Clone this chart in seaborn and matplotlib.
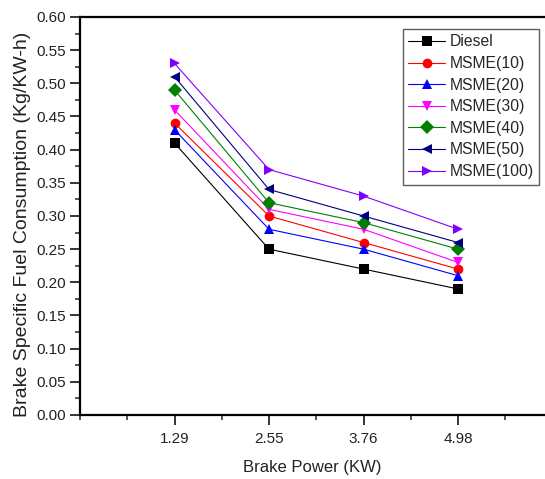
import matplotlib
matplotlib.use("Agg")
import matplotlib.pyplot as plt
from matplotlib.ticker import MultipleLocator, FormatStrFormatter
import seaborn as sns
import pandas as pd

# Brake power loads (category labels on the x axis)
brake_power = ["1.29", "2.55", "3.76", "4.98"]

# Brake specific fuel consumption (kg/kW-h) for each fuel blend
diesel = [0.41, 0.25, 0.22, 0.19]
msme10 = [0.44, 0.30, 0.26, 0.22]
msme20 = [0.43, 0.28, 0.25, 0.21]
msme30 = [0.46, 0.31, 0.28, 0.23]
msme40 = [0.49, 0.32, 0.29, 0.25]
msme50 = [0.51, 0.34, 0.30, 0.26]
msme100 = [0.53, 0.37, 0.33, 0.28]

fuels = ["Diesel", "MSME(10)", "MSME(20)", "MSME(30)", "MSME(40)", "MSME(50)", "MSME(100)"]
series = [diesel, msme10, msme20, msme30, msme40, msme50, msme100]

colors = ["#000000", "#ff0000", "#0000ff", "#ff00ff", "#008000", "#000080", "#8000ff"]
markers = ["s", "o", "^", "v", "D", "<", ">"]

rows = []
for fuel, vals in zip(fuels, series):
    for bp, v in zip(brake_power, vals):
        rows.append({"Brake Power": bp, "BSFC": v, "Fuel": fuel})
df = pd.DataFrame(rows)

sns.set_style("ticks")
plt.rcParams["font.family"] = ["Liberation Sans", "DejaVu Sans"]

fig = plt.figure(figsize=(5.45, 4.79), dpi=100)
ax = fig.add_axes([80 / 545, 1 - 415 / 479, 1 - 80 / 545, (415 - 17) / 479])

sns.lineplot(
    data=df, x="Brake Power", y="BSFC", hue="Fuel", style="Fuel",
    hue_order=fuels, style_order=fuels,
    palette=dict(zip(fuels, colors)),
    markers=dict(zip(fuels, markers)), dashes=False,
    linewidth=0.8, markersize=7, markeredgewidth=0,
    sort=False, ax=ax,
)

ax.set_xlim(-1, 3.92)
ax.set_ylim(0, 0.60)
ax.set_xticks(range(len(brake_power)))
ax.set_xticklabels(brake_power)
ax.xaxis.set_minor_locator(MultipleLocator(0.5))
ax.yaxis.set_major_locator(MultipleLocator(0.05))
ax.yaxis.set_minor_locator(MultipleLocator(0.025))
ax.yaxis.set_major_formatter(FormatStrFormatter("%.2f"))

tick_font = ["Liberation Sans Narrow", "Liberation Sans", "DejaVu Sans"]
for lbl in ax.get_xticklabels() + ax.get_yticklabels():
    lbl.set_family(tick_font)
    lbl.set_fontsize(11)
    lbl.set_color("#222222")

ax.tick_params(axis="both", which="major", direction="out", length=7, width=1.3, pad=3)
ax.tick_params(axis="x", which="major", pad=5)
ax.tick_params(axis="both", which="minor", direction="out", length=3.5, width=1.1)

for side in ["left", "bottom", "top"]:
    ax.spines[side].set_linewidth(1.6)
    ax.spines[side].set_color("black")
ax.spines["right"].set_visible(False)

ax.set_xlabel("Brake Power (KW)", fontsize=12, labelpad=10, color="#222222")
ax.set_ylabel("Brake Specific Fuel Consumption (Kg/KW-h)", fontsize=14, labelpad=6, color="#222222")
ax.yaxis.set_label_coords(-0.105, 0.48)

handles, labels = ax.get_legend_handles_labels()
leg = ax.legend(
    handles, labels, loc="upper left",
    fontsize=11.3, frameon=True, fancybox=False,
    edgecolor="#333333", handlelength=2.3, handletextpad=0.3, labelspacing=0.42,
    borderpad=0.35, borderaxespad=0,
)
leg.set_bbox_to_anchor((403 / 545, 1 - 29 / 479), transform=fig.transFigure)
leg.get_frame().set_linewidth(1.0)

fig.savefig("out.png", dpi=100)
